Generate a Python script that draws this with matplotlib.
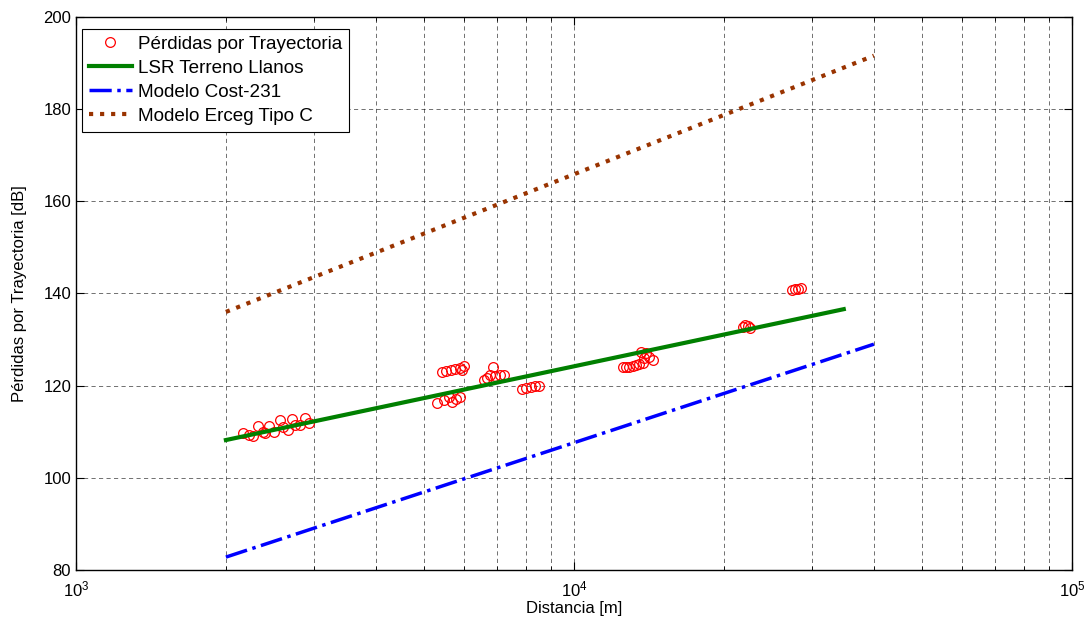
import matplotlib
matplotlib.use("Agg")
import matplotlib.pyplot as plt
from matplotlib.ticker import LogLocator, FixedLocator, NullFormatter

plt.rcParams['font.family'] = ['Liberation Sans', 'DejaVu Sans']

# Measured path loss (distance m, loss dB)
meas_dist = [2163, 2230, 2272, 2319, 2373, 2391, 2443, 2493, 2571, 2603, 2671, 2714, 2756, 2820, 2886, 2931,
             5435, 5544, 5665, 5778, 5895, 5961, 6005,
             5309, 5475, 5603, 5691, 5805, 5914,
             6588, 6692, 6795, 6880, 6954, 7094, 7226,
             7869, 8027, 8178, 8330, 8498,
             12518, 12713, 12912, 13112, 13313, 13523, 13733, 13841, 13944, 14164, 14384, 13626,
             21821, 22022, 22330, 22538,
             27364, 27747, 28133, 28525]
meas_loss = [109.7, 109.3, 109.1, 111.2, 110.0, 109.7, 111.2, 110.0, 112.6, 111.1, 110.4, 112.8, 111.5, 111.5, 112.9, 112.0,
             123.0, 123.2, 123.4, 123.6, 123.8, 123.4, 124.3,
             116.2, 116.9, 117.6, 116.5, 117.0, 117.6,
             121.2, 121.6, 122.3, 124.0, 122.1, 122.3, 122.3,
             119.2, 119.6, 119.8, 119.9, 120.0,
             124.1, 124.1, 124.1, 124.3, 124.5, 124.7, 125.0, 125.9, 127.0, 126.3, 125.6, 127.4,
             132.7, 133.2, 133.0, 132.5,
             140.8, 141.0, 141.0, 141.2]

# Model lines (end points)
lsr_dist = [2000, 34800]
lsr_loss = [108.2, 136.6]
cost_dist = [2000, 40000]
cost_loss = [82.8, 129.0]
erceg_dist = [2000, 40000]
erceg_loss = [136.0, 191.6]

fig = plt.figure(figsize=(10.84, 6.22), dpi=100)
ax = fig.add_axes([0.0701, 0.0836, 0.9189, 0.8891])

ax.plot(meas_dist, meas_loss, 'o', mfc='none', mec='red', ms=7, mew=0.9,
        label='Pérdidas por Trayectoria', zorder=3)
ax.plot(lsr_dist, lsr_loss, '-', color=(0, 0.5, 0), lw=3, label='LSR Terreno Llanos', zorder=4)
ax.plot(cost_dist, cost_loss, '-.', color='blue', lw=2.5, label='Modelo Cost-231', zorder=4)
ax.plot(erceg_dist, erceg_loss, ':', color=(0.6, 0.2, 0), lw=3, label='Modelo Erceg Tipo C', zorder=4)

ax.set_xscale('log')
ax.set_xlim(1e3, 1e5)
ax.set_ylim(80, 200)
ax.yaxis.set_major_locator(FixedLocator([80, 100, 120, 140, 160, 180, 200]))
ax.xaxis.set_major_locator(LogLocator(base=10, numticks=10))
ax.xaxis.set_minor_locator(LogLocator(base=10, subs=range(2, 10), numticks=20))
ax.xaxis.set_minor_formatter(NullFormatter())

ax.grid(True, which='major', axis='both', color='k', ls=(0, (5, 4)), lw=0.6, alpha=0.65)
ax.grid(True, which='minor', axis='x', color='k', ls=(0, (5, 4)), lw=0.6, alpha=0.65)

ax.tick_params(which='both', direction='in', top=True, right=True, labelsize=12)
ax.tick_params(which='major', length=6)
ax.tick_params(which='minor', length=3)
ax.tick_params(axis='x', which='major', pad=7)
for s in ax.spines.values():
    s.set_linewidth(1.0)

ax.set_xlabel('Distancia [m]', fontsize=12, labelpad=1)
ax.set_ylabel('Pérdidas por Trayectoria [dB]', fontsize=12, labelpad=12)

leg = ax.legend(loc='upper left', bbox_to_anchor=(0.006, 0.978), fontsize=13.6, frameon=True,
                fancybox=False, edgecolor='k', framealpha=1, borderpad=0.35, labelspacing=0.36,
                handlelength=2.3, handletextpad=0.3, borderaxespad=0)
leg.get_frame().set_linewidth(0.8)

fig.savefig('out.png', dpi=100)
